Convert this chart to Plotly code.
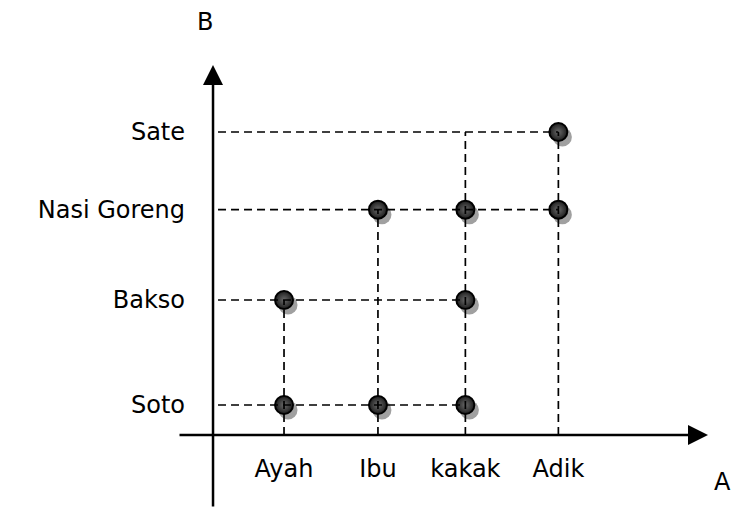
import plotly.graph_objects as go

# ---- data ----
persons = ["Ayah", "Ibu", "kakak", "Adik"]          # set A
foods = ["Soto", "Bakso", "Nasi Goreng", "Sate"]     # set B
pair_A = ["Ayah", "Ayah", "Ibu", "Ibu", "kakak", "kakak", "kakak", "Adik", "Adik"]
pair_B = ["Soto", "Bakso", "Soto", "Nasi Goreng", "Soto", "Bakso", "Nasi Goreng", "Nasi Goreng", "Sate"]
vguide_top = ["Bakso", "Nasi Goreng", "Sate", "Sate"]  # how far each vertical guide reaches

# ---- layout constants (axis positions of each category, in axis units) ----
A_pos = [1.0, 2.01, 2.95, 3.95]
B_pos = [1.0, 2.0, 2.86, 3.6]
W, H = 732, 508
XR = [-2.054, 5.817]
YR = [0.019, 4.857]
X_AXIS_AT = 0.714     # y value where the A axis sits
Y_AXIS_AT = 0.2366    # x value where the B axis sits
FONT = "DejaVu Sans"
FS = 24

ax_map = dict(zip(persons, A_pos))
by_map = dict(zip(foods, B_pos))
px_x = W / (XR[1] - XR[0])
px_y = H / (YR[1] - YR[0])

fig = go.Figure()

# point coordinates
xs = [ax_map[a] for a in pair_A]
ys = [by_map[b] for b in pair_B]

# shadows (offset a few pixels down-right)
fig.add_trace(go.Scatter(
    x=[x + 4 / px_x for x in xs], y=[y - 5 / px_y for y in ys], mode="markers",
    marker=dict(size=19, color="#a0a0a0", line=dict(width=0)),
    hoverinfo="skip", showlegend=False))

# points
fig.add_trace(go.Scatter(
    x=xs, y=ys, mode="markers",
    marker=dict(size=18, color="#1c1c1c", line=dict(width=2, color="black"),
                gradient=dict(type="radial", color="#6a6a6a")),
    showlegend=False, hoverinfo="skip"))

dash_line = dict(color="black", width=1.7, dash="8px,5px")
x_start = Y_AXIS_AT + 5 / px_x
# horizontal guides
for f in foods:
    row = [ax_map[a] for a, b in zip(pair_A, pair_B) if b == f]
    fig.add_trace(go.Scatter(x=[x_start, max(row)], y=[by_map[f]] * 2, mode="lines",
                             line=dash_line, hoverinfo="skip", showlegend=False))
# vertical guides
for p, top in zip(persons, vguide_top):
    fig.add_trace(go.Scatter(x=[ax_map[p]] * 2, y=[X_AXIS_AT, by_map[top]], mode="lines",
                             line=dash_line, hoverinfo="skip", showlegend=False))

# axes with arrows
annotations = [
    dict(x=5.559, y=X_AXIS_AT, ax=-0.14, ay=X_AXIS_AT, xref="x", yref="y", axref="x", ayref="y",
         text="", showarrow=True, arrowhead=2, arrowsize=1.6, arrowwidth=2.5, arrowcolor="black"),
    dict(x=Y_AXIS_AT, y=4.238, ax=Y_AXIS_AT, ay=0.02, xref="x", yref="y", axref="x", ayref="y",
         text="", showarrow=True, arrowhead=2, arrowsize=1.6, arrowwidth=2.5, arrowcolor="black"),
    dict(x=205 / W, y=1 - 22 / H, xref="paper", yref="paper", text="B", showarrow=False,
         font=dict(family=FONT, size=FS, color="black"), xanchor="center", yanchor="middle"),
    dict(x=722 / W, y=1 - 482 / H, xref="paper", yref="paper", text="A", showarrow=False,
         font=dict(family=FONT, size=FS, color="black"), xanchor="center", yanchor="middle"),
]

fig.update_layout(
    width=W, height=H, margin=dict(l=0, r=0, t=0, b=0),
    paper_bgcolor="white", plot_bgcolor="white",
    annotations=annotations,
    font=dict(family=FONT, size=FS, color="black"),
    xaxis=dict(range=XR, showgrid=False, zeroline=False, showline=False,
               tickvals=A_pos, ticktext=persons, ticks="",
               anchor="free", position=(X_AXIS_AT - YR[0]) / (YR[1] - YR[0]),
               ticklabelstandoff=17, automargin=False,
               tickfont=dict(family=FONT, size=FS, color="black")),
    yaxis=dict(range=YR, showgrid=False, zeroline=False, showline=False,
               tickvals=B_pos, ticktext=foods, ticks="",
               anchor="free", position=(Y_AXIS_AT - XR[0]) / (XR[1] - XR[0]),
               ticklabelstandoff=28, automargin=False,
               tickfont=dict(family=FONT, size=FS, color="black")),
)

fig.write_html("out.html", config={"displayModeBar": False},
               post_script="document.body.style.margin='0';")
